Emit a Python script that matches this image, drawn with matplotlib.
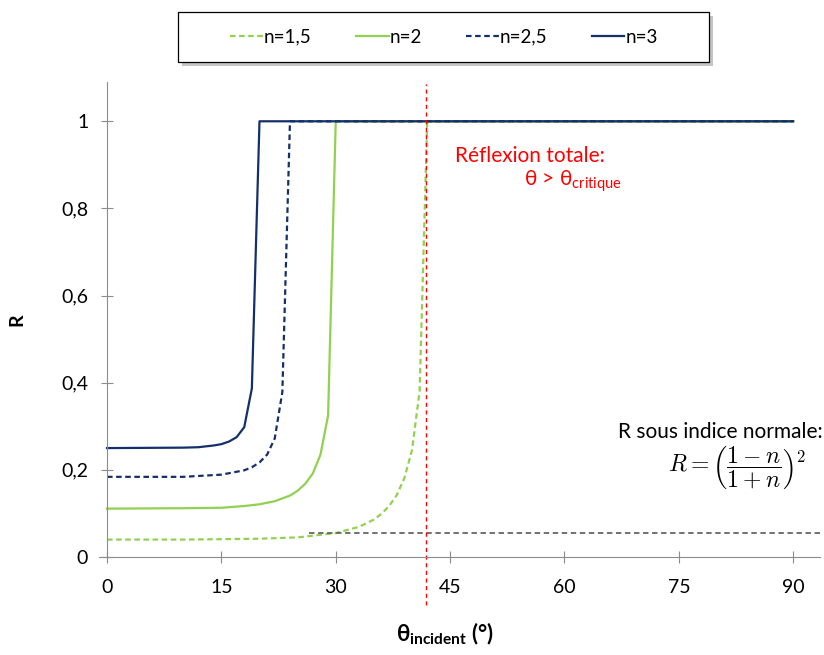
import numpy as np
import matplotlib
matplotlib.use("Agg")
import matplotlib.pyplot as plt
from matplotlib.patches import Rectangle

plt.rcParams['font.family'] = ['Lato', 'DejaVu Sans']
plt.rcParams['mathtext.fontset'] = 'custom'
plt.rcParams['mathtext.rm'] = 'Lato'
plt.rcParams['mathtext.bf'] = 'Lato:bold'
plt.rcParams['mathtext.it'] = 'Lato:italic'

# Data (angle in degrees, reflectance R)
theta_n15 = [0, 10, 20, 25, 30, 33, 34, 35, 36, 37, 38, 39, 40, 41, 42, 90]
r_n15 = [0.040, 0.040, 0.042, 0.045, 0.055, 0.069, 0.077, 0.086, 0.099, 0.117, 0.142,
         0.181, 0.245, 0.380, 1.0, 1.0]

theta_n2 = [0, 10, 15, 18, 20, 22, 24, 25, 26, 27, 28, 29, 30, 90]
r_n2 = [0.111, 0.112, 0.113, 0.117, 0.121, 0.128, 0.141, 0.152, 0.168, 0.192, 0.235,
        0.325, 1.0, 1.0]

theta_n25 = [0, 10, 15, 18, 19, 20, 21, 22, 23, 24, 90]
r_n25 = [0.184, 0.184, 0.189, 0.199, 0.206, 0.217, 0.235, 0.272, 0.379, 1.0, 1.0]

theta_n3 = [0, 10, 12, 14, 15, 16, 17, 18, 19, 20, 90]
r_n3 = [0.250, 0.251, 0.252, 0.256, 0.259, 0.265, 0.275, 0.298, 0.387, 1.0, 1.0]

series_labels = ['n=1,5', 'n=2', 'n=2,5', 'n=3']

x_ticks = [0, 15, 30, 45, 60, 75, 90]
y_ticks = [0, 0.2, 0.4, 0.6, 0.8, 1]
y_tick_labels = ['0', '0,2', '0,4', '0,6', '0,8', '1']

theta_critical = 41.8   # critical angle for n=1,5
r_normal = 0.054        # reference level drawn in grey
r_normal_start = 26.5

green = '#92D050'
navy = '#14306B'
axis_gray = '#8C8C8C'
dash = (0, (2.5, 1.6))

fig = plt.figure(figsize=(8.24, 6.55), dpi=100)
ax = fig.add_axes([0.1206, 0.1496, 0.8744, 0.7251])

ax.plot(theta_n15, r_n15, color=green, lw=1.6, ls=dash, label=series_labels[0])
ax.plot(theta_n2, r_n2, color=green, lw=1.6, label=series_labels[1])
ax.plot(theta_n25, r_n25, color=navy, lw=1.6, ls=dash, label=series_labels[2])
ax.plot(theta_n3, r_n3, color=navy, lw=1.6, label=series_labels[3])

# grey reference line and red critical-angle line
ax.plot([r_normal_start, 93.5], [r_normal, r_normal], color='#666666', lw=1.3,
        ls=(0, (3, 2)), clip_on=False)
ax.plot([theta_critical, theta_critical], [-0.11, 1.085], color='#FF0000', lw=1.0,
        ls=(0, (3, 2.5)), clip_on=False)

ax.set_xlim(-1, 93.5)
ax.set_ylim(0, 1.09)
for s in ['top', 'right']:
    ax.spines[s].set_visible(False)
ax.spines['left'].set_position(('data', 0))
ax.spines['left'].set_color(axis_gray)
ax.spines['bottom'].set_color(axis_gray)
ax.annotate('', xy=(0, 1.095), xytext=(0, 1.05),
            arrowprops=dict(arrowstyle='->', color=axis_gray, lw=0.9,
                            shrinkA=0, shrinkB=0))

ax.set_xticks(x_ticks)
ax.set_yticks(y_ticks)
ax.set_yticklabels(y_tick_labels)
ax.tick_params(direction='inout', length=9, color=axis_gray, labelsize=14)
ax.tick_params(axis='x', pad=11)
ax.tick_params(axis='y', pad=9)

ax.set_ylabel('R', fontsize=14, fontweight='bold')
ax.yaxis.set_label_coords(-0.103, 0.5)
ax.set_xlabel(r'$\mathbf{\theta_{incident}}$ (°)', fontsize=16, fontweight='bold', labelpad=18)
ax.xaxis.label.set_x(0.48)

ax.text(45.7, 0.92, 'Réflexion totale:', color='#FF0000', fontsize=15, va='center')
ax.text(54.7, 0.862, r'θ > θ$_{\mathrm{critique}}$', color='#FF0000', fontsize=15, va='center')

ax.text(93.8, 0.287, 'R sous indice normale:', fontsize=15, ha='right', va='center')
ax.text(82.6, 0.203, r'$R=\left(\dfrac{1-n}{1+n}\right)^{2}$', fontsize=17, ha='center',
        va='center', math_fontfamily='cm')

# legend box with shadow drawn separately
box = [178 / 824, 1 - 62 / 655, 531 / 824, 50 / 655]
ax.add_patch(Rectangle((box[0] + 4 / 824, box[1] - 4 / 655), box[2], box[3],
                       transform=fig.transFigure, facecolor='#C4C4C4',
                       edgecolor='none', zorder=3, clip_on=False))
ax.add_patch(Rectangle((box[0], box[1]), box[2], box[3], transform=fig.transFigure,
                       facecolor='white', edgecolor='black', lw=0.9, zorder=4,
                       clip_on=False))

leg = ax.legend(loc='center', bbox_to_anchor=(0.5388, 0.9435), bbox_transform=fig.transFigure,
                ncol=4, fontsize=13.5, frameon=False,
                handlelength=1.75, handletextpad=0.05, columnspacing=2.35)
leg.set_zorder(6)

fig.savefig('out.png', dpi=100)
